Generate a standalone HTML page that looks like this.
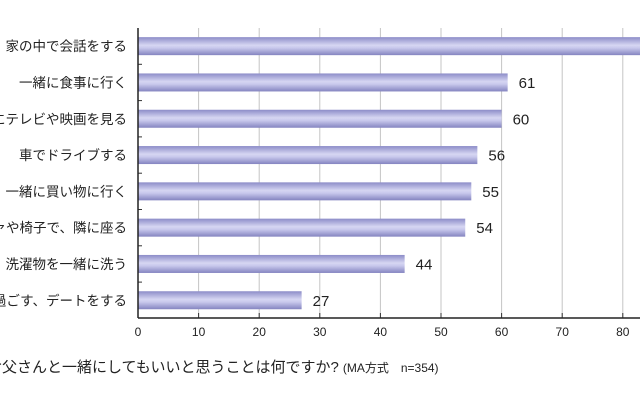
<!DOCTYPE html>
<html><head><meta charset="utf-8"><style>
html,body{margin:0;padding:0;background:#fff;width:640px;height:400px;overflow:hidden}
svg{display:block;font-family:"Liberation Sans","Noto Sans CJK JP",sans-serif}
</style></head><body>
<svg id="chart" width="640" height="400" viewBox="0 0 640 400">
<defs><linearGradient id="bg" x1="0" y1="0" x2="0" y2="1">
<stop offset="0" stop-color="#8c8cc8"/><stop offset="0.45" stop-color="#d6d6f2"/><stop offset="0.6" stop-color="#c8c8ec"/><stop offset="1" stop-color="#8484c0"/></linearGradient></defs>
<g id="grid"></g><g id="bars"></g><g id="axes"></g>
<text x="-13" y="372" font-size="15" fill="#222">お父さんと一緒にしてもいいと思うことは何ですか?<tspan font-size="12" dx="4">(MA方式　n=354)</tspan></text>
</svg>
<script>
const categories=["家の中で会話をする","一緒に食事に行く","一緒にテレビや映画を見る","車でドライブする","一緒に買い物に行く","ソファや椅子で、隣に座る","洗濯物を一緒に洗う","一緒に過ごす、デートをする"];
const values=[85,61,60,56,55,54,44,27];
const ticks=[0,10,20,30,40,50,60,70,80];
const NS="http://www.w3.org/2000/svg";
const x0=138,pxPer=6.06,yTop=28,yBase=318,rowH=36.3,barH=18;
const xs=v=>x0+v*pxPer;
const yc=i=>yTop+rowH*(i+0.5);
function mk(t,a,p){const e=document.createElementNS(NS,t);for(const k in a)e.setAttribute(k,a[k]);p.appendChild(e);return e;}
const grid=document.getElementById('grid'),bars=document.getElementById('bars'),axes=document.getElementById('axes');
ticks.forEach(t=>{
 if(t>0){const g=mk('line',{x1:xs(t),x2:xs(t),y1:yTop,y2:yBase,stroke:'#c4c4c4','stroke-width':1},grid);
 
 }
 const tk=mk('line',{x1:xs(t),x2:xs(t),y1:yBase-5,y2:yBase,stroke:'#333','stroke-width':1},axes);
 
 
 const tl=mk('text',{x:xs(t),y:yBase+18,'text-anchor':'middle','font-size':12,fill:'#222'},axes);
 tl.textContent=t;
 
 
});
categories.forEach((c,i)=>{
 const r=mk('rect',{x:x0,y:yc(i)-barH/2,width:xs(values[i])-x0,height:barH,fill:'url(#bg)'},bars);
 
 
 const vl=mk('text',{x:xs(values[i])+11,y:yc(i)+5.5,'font-size':15,fill:'#222'},bars);
 vl.textContent=values[i];
 
 
 const cl=mk('text',{x:127,y:yc(i)+5,'text-anchor':'end','font-size':13.5,fill:'#222'},axes);
 cl.textContent=c;
 
 
 if(i>0){const yt=mk('line',{x1:x0,x2:x0+4,y1:yTop+rowH*i,y2:yTop+rowH*i,stroke:'#333'},axes);
 
 }
});
const ya=mk('line',{x1:x0,x2:x0,y1:yTop,y2:yBase,stroke:'#222','stroke-width':1.5},axes);


const xa=mk('line',{x1:x0,x2:640,y1:yBase,y2:yBase,stroke:'#222','stroke-width':1.5},axes);


</script>
</body></html>
